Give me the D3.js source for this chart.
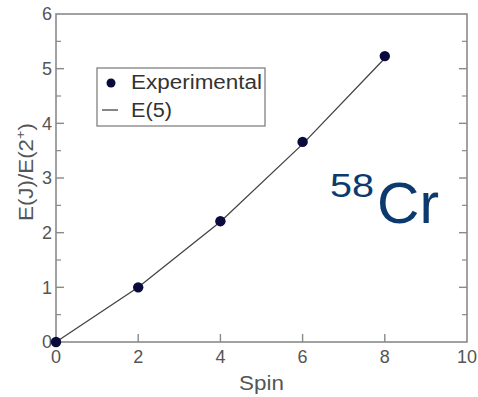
<!DOCTYPE html>
<html>
<head>
<meta charset="utf-8">
<script src="https://cdn.jsdelivr.net/npm/d3@7"></script>
<style>
  body { margin: 0; background: #fff; }
  text { font-family: "Liberation Sans", Arial, sans-serif; }
</style>
</head>
<body>
<div id="chart"></div>
<script>
// data
var spins = [0, 2, 4, 6, 8];
var expValues = [0, 1.0, 2.21, 3.66, 5.23];
var e5Values = [0, 1.0, 2.20, 3.62, 5.19];
var xTicks = [0, 2, 4, 6, 8, 10];
var yTicks = [0, 1, 2, 3, 4, 5, 6];

var W = 478, H = 397;
var margin = { top: 14, right: 11, bottom: 55, left: 56 };
var width = W - margin.left - margin.right;
var height = H - margin.top - margin.bottom;

var axisCol = "#8a8a8a", textCol = "#555";

var svg = d3.select("#chart").append("svg")
  .attr("width", W).attr("height", H);
var g = svg.append("g")
  .attr("transform", "translate(" + margin.left + "," + margin.top + ")");

var x = d3.scaleLinear().domain([0, 10]).range([0, width]);
var y = d3.scaleLinear().domain([0, 6]).range([height, 0]);

//frame
g.append("rect")
  .attr("width", width).attr("height", height)
  .attr("fill", "none").attr("stroke", axisCol).attr("stroke-width", 1.6);

//left axis: major + minor ticks pointing in
var yMinor = d3.range(0.5, 6, 1);
g.selectAll(".ymaj").data(yTicks.slice(1, -1)).enter().append("line")
  .attr("x1", 0).attr("x2", 8).attr("y1", d => y(d)).attr("y2", d => y(d))
  .attr("stroke", axisCol).attr("stroke-width", 1.4);
g.selectAll(".ymin").data(yMinor).enter().append("line")
  .attr("x1", 0).attr("x2", 5).attr("y1", d => y(d)).attr("y2", d => y(d))
  .attr("stroke", axisCol).attr("stroke-width", 1.2);
//right axis ticks
g.selectAll(".yrmaj").data(yTicks.slice(1, -1)).enter().append("line")
  .attr("x1", width).attr("x2", width - 8).attr("y1", d => y(d)).attr("y2", d => y(d))
  .attr("stroke", axisCol).attr("stroke-width", 1.4);
g.selectAll(".yrmin").data(yMinor).enter().append("line")
  .attr("x1", width).attr("x2", width - 5).attr("y1", d => y(d)).attr("y2", d => y(d))
  .attr("stroke", axisCol).attr("stroke-width", 1.2);
//bottom ticks
g.selectAll(".xmaj").data(xTicks.slice(1, -1)).enter().append("line")
  .attr("x1", d => x(d)).attr("x2", d => x(d)).attr("y1", height).attr("y2", height - 8)
  .attr("stroke", axisCol).attr("stroke-width", 1.4);

//tick labels
g.selectAll(".ylab").data(yTicks).enter().append("text")
  .attr("x", -4).attr("y", d => y(d)).attr("dy", "0.36em")
  .attr("text-anchor", "end").attr("font-size", 18).attr("fill", textCol)
  .text(d => d);
g.selectAll(".xlab").data(xTicks).enter().append("text")
  .attr("x", d => x(d)).attr("y", height + 21)
  .attr("text-anchor", "middle").attr("font-size", 18).attr("fill", textCol)
  .text(d => d);

//axis titles
g.append("text")
  .attr("transform", "translate(" + (width / 2) + "," + (height + 48) + ") scale(1.12,1)")
  .attr("text-anchor", "middle").attr("font-size", 20).attr("fill", textCol)
  .text("Spin");
var yt = g.append("text")
  .attr("transform", "translate(-23," + (height / 2 - 6) + ") rotate(-90) scale(1.12,1)")
  .attr("text-anchor", "middle").attr("font-size", 20).attr("fill", textCol);
yt.append("tspan").text("E(J)/E(2");
yt.append("tspan").attr("dy", -8).attr("font-size", 13).text("+");
yt.append("tspan").attr("dy", 8).text(")");

//E(5) line
var line = d3.line().x((d, i) => x(spins[i])).y(d => y(d));
g.append("path").datum(e5Values)
  .attr("d", line).attr("fill", "none")
  .attr("stroke", "#444").attr("stroke-width", 1.3);

//experimental points
g.selectAll(".pt").data(expValues).enter().append("circle")
  .attr("cx", (d, i) => x(spins[i])).attr("cy", d => y(d))
  .attr("r", 5.2).attr("fill", "#0a0a3c");

//legend
var leg = svg.append("g").attr("transform", "translate(97,68)");
leg.append("rect").attr("width", 168).attr("height", 58)
  .attr("fill", "#fff").attr("stroke", axisCol).attr("stroke-width", 1.4);
leg.append("circle").attr("cx", 14).attr("cy", 15).attr("r", 4.5).attr("fill", "#0a0a3c");
leg.append("text").attr("x", 34).attr("y", 21).attr("font-size", 20).attr("fill", "#333")
  .attr("textLength", 131).attr("lengthAdjust", "spacingAndGlyphs")
  .text("Experimental");
leg.append("line").attr("x1", 5).attr("x2", 21).attr("y1", 42).attr("y2", 42)
  .attr("stroke", "#444").attr("stroke-width", 1.3);
leg.append("text").attr("x", 34).attr("y", 49).attr("font-size", 20).attr("fill", "#333")
  .attr("textLength", 41).attr("lengthAdjust", "spacingAndGlyphs")
  .text("E(5)");

//nucleus label
var nuc = svg.append("text").attr("fill", "#0d3a6e");
nuc.append("tspan").attr("x", 330).attr("y", 197).attr("font-size", 33)
  .attr("textLength", 44).attr("lengthAdjust", "spacingAndGlyphs").text("58");
nuc.append("tspan").attr("x", 377).attr("y", 223).attr("font-size", 57)
  .attr("textLength", 62).attr("lengthAdjust", "spacingAndGlyphs").text("Cr");
</script>
</body>
</html>
